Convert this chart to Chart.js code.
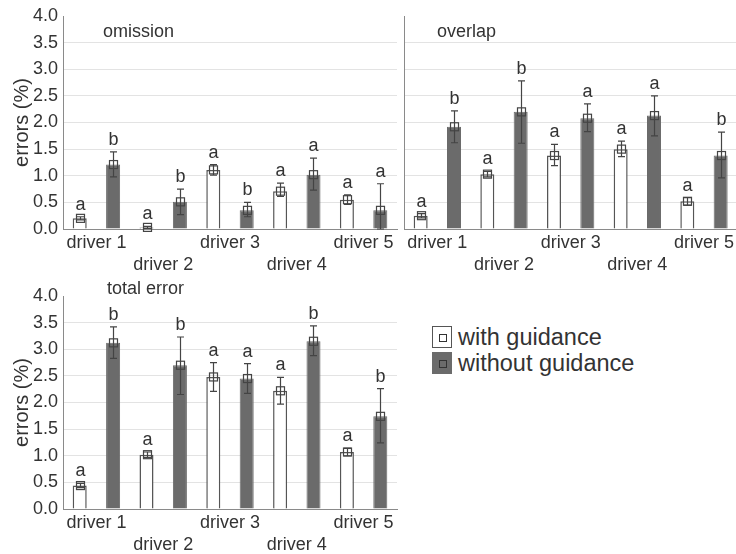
<!DOCTYPE html>
<html>
<head>
<meta charset="utf-8">
<script src="https://cdn.jsdelivr.net/npm/chart.js@4/dist/chart.umd.min.js"></script>
<style>
  html, body { margin: 0; padding: 0; background: #fff; overflow: hidden; width: 736px; height: 554px; }
  canvas { position: absolute; }
  #legend { position: absolute; left: 432px; top: 324px; font-family: "Liberation Sans", Arial, sans-serif; font-size: 23.5px; color: #333; }
  #legend .row { height: 26px; line-height: 26px; white-space: nowrap; position: relative; padding-left: 26px; }
  #legend .box { position: absolute; left: 0; top: 2px; width: 20px; height: 22px; box-sizing: border-box; }
  #legend .box i { position: absolute; left: 6px; top: 7px; width: 8px; height: 8px; box-sizing: border-box; border: 1.3px solid #333; }
</style>
</head>
<body>
<canvas id="omission" width="400" height="280" style="left:0;top:0"></canvas>
<canvas id="overlap" width="338" height="280" style="left:400px;top:0"></canvas>
<canvas id="total" width="400" height="274" style="left:0;top:280px"></canvas>
<div id="legend"></div>

<script>
// ---- data ----
const drivers = ['driver 1', 'driver 2', 'driver 3', 'driver 4', 'driver 5'];
const seriesNames = ['with guidance', 'without guidance'];
const yTickLabels = ['0.0', '0.5', '1.0', '1.5', '2.0', '2.5', '3.0', '3.5', '4.0'];

// omission errors (%): mean, lower and upper whisker, group letters
const omissionWith      = [0.20, 0.03, 1.11, 0.71, 0.55];
const omissionWithLo    = [0.17, 0.01, 1.01, 0.61, 0.46];
const omissionWithHi    = [0.23, 0.05, 1.21, 0.86, 0.64];
const omissionWithout   = [1.21, 0.51, 0.35, 1.02, 0.35];
const omissionWithoutLo = [0.98, 0.27, 0.23, 0.73, 0.00];
const omissionWithoutHi = [1.45, 0.75, 0.50, 1.33, 0.85];
const omissionLettersWith    = ['a', 'a', 'a', 'a', 'a'];
const omissionLettersWithout = ['b', 'b', 'b', 'a', 'a'];

// overlap errors (%)
const overlapWith      = [0.25, 1.03, 1.38, 1.50, 0.52];
const overlapWithLo    = [0.21, 0.98, 1.19, 1.36, 0.45];
const overlapWithHi    = [0.29, 1.08, 1.59, 1.65, 0.59];
const overlapWithout   = [1.92, 2.20, 2.08, 2.13, 1.38];
const overlapWithoutLo = [1.62, 1.61, 1.83, 1.75, 0.96];
const overlapWithoutHi = [2.22, 2.78, 2.35, 2.50, 1.82];
const overlapLettersWith    = ['a', 'a', 'a', 'a', 'a'];
const overlapLettersWithout = ['b', 'b', 'a', 'a', 'b'];

// total errors (%)
const totalWith      = [0.44, 1.02, 2.48, 2.22, 1.07];
const totalWithLo    = [0.40, 0.97, 2.21, 1.97, 1.00];
const totalWithHi    = [0.48, 1.07, 2.75, 2.47, 1.14];
const totalWithout   = [3.12, 2.70, 2.45, 3.15, 1.74];
const totalWithoutLo = [2.83, 2.15, 2.17, 2.88, 1.24];
const totalWithoutHi = [3.42, 3.23, 2.73, 3.44, 2.26];
const totalLettersWith    = ['a', 'a', 'a', 'a', 'a'];
const totalLettersWithout = ['b', 'b', 'a', 'b', 'b'];

// ---- styling ----
const FONT = '"Liberation Sans", Arial, sans-serif';
const TEXT = '#333';
const DARK = '#6b6b6b';
const AXIS = '#8a8a8a';
const GRID = '#e3e3e3';

// even-numbered drivers sit on a second label row
const xLabels = drivers.map((d, i) => (i % 2 === 1 ? ['', d] : d));

// whiskers, mean markers, significance letters and panel caption
const overlayPlugin = {
  id: 'overlay',
  afterDatasetsDraw(chart, args, o) {
    const ctx = chart.ctx;
    const ys = chart.scales.y;
    o.series.forEach((s, i) => {
      const meta = chart.getDatasetMeta(i);
      meta.data.forEach((bar, j) => {
        const x = Math.round(bar.x) + 0.5;
        const yHi = ys.getPixelForValue(s.hi[j]);
        const yLo = ys.getPixelForValue(s.lo[j]);
        const yM = ys.getPixelForValue(chart.data.datasets[i].data[j]);
        ctx.save();
        ctx.strokeStyle = '#444';
        ctx.lineWidth = 1.2;
        ctx.beginPath();
        ctx.moveTo(x, yHi); ctx.lineTo(x, yLo);
        ctx.moveTo(x - 3.5, yHi); ctx.lineTo(x + 3.5, yHi);
        ctx.moveTo(x - 3.5, yLo); ctx.lineTo(x + 3.5, yLo);
        ctx.stroke();
        ctx.strokeRect(x - 4, yM - 4, 8, 8);
        ctx.fillStyle = TEXT;
        ctx.font = '18px ' + FONT;
        ctx.textAlign = 'center';
        ctx.textBaseline = 'alphabetic';
        ctx.fillText(s.letters[j], x, yHi - 7);
        ctx.restore();
      });
    });
    ctx.save();
    ctx.fillStyle = TEXT;
    ctx.font = '18px ' + FONT;
    ctx.textAlign = 'left';
    ctx.textBaseline = 'middle';
    ctx.fillText(o.title, chart.chartArea.left + o.titleDx, o.titleY);
    ctx.restore();
  }
};

function makePanel(id, cfg) {
  return new Chart(document.getElementById(id), {
    type: 'bar',
    data: {
      labels: xLabels,
      datasets: [
        { label: seriesNames[0], data: cfg.withData, backgroundColor: '#fff', borderColor: '#555', borderWidth: 1.5 },
        { label: seriesNames[1], data: cfg.withoutData, backgroundColor: DARK, borderColor: DARK, borderWidth: 1 }
      ]
    },
    options: {
      responsive: false,
      animation: false,
      devicePixelRatio: 1,
      layout: { padding: { top: 16, right: cfg.padRight, bottom: 0, left: 0 } },
      datasets: { bar: { categoryPercentage: 1, barPercentage: 0.42 } },
      plugins: {
        legend: { display: false },
        tooltip: { enabled: false },
        overlay: {
          title: cfg.title, titleDx: cfg.titleDx, titleY: cfg.titleY,
          series: [
            { lo: cfg.withLo, hi: cfg.withHi, letters: cfg.lettersWith },
            { lo: cfg.withoutLo, hi: cfg.withoutHi, letters: cfg.lettersWithout }
          ]
        }
      },
      scales: {
        x: {
          grid: { display: false, drawTicks: false },
          border: { color: AXIS, width: 1 },
          ticks: { font: { family: FONT, size: 18, lineHeight: 1.17 }, color: TEXT, padding: 4, maxRotation: 0, autoSkip: false },
          afterFit(s) { s.height = cfg.xHeight; }
        },
        y: {
          min: 0, max: 4,
          ticks: {
            display: cfg.showY, stepSize: 0.5,
            callback: (v, i) => yTickLabels[i],
            font: { family: FONT, size: 18 }, color: TEXT, padding: 5
          },
          grid: { color: c => (c.tick && c.tick.value === 4 ? 'rgba(0,0,0,0)' : GRID), drawTicks: false, lineWidth: 1 },
          border: { color: AXIS, width: 1 },
          title: { display: cfg.showY, text: 'errors (%)', font: { family: FONT, size: 20 }, color: TEXT, padding: { top: 10, bottom: 0 } },
          afterFit(s) { s.width = cfg.yWidth; }
        }
      }
    },
    plugins: [overlayPlugin]
  });
}

makePanel('omission', {
  title: 'omission', titleDx: 40, titleY: 32,
  withData: omissionWith, withLo: omissionWithLo, withHi: omissionWithHi, lettersWith: omissionLettersWith,
  withoutData: omissionWithout, withoutLo: omissionWithoutLo, withoutHi: omissionWithoutHi, lettersWithout: omissionLettersWithout,
  showY: true, yWidth: 63, padRight: 3, xHeight: 51
});

makePanel('overlap', {
  title: 'overlap', titleDx: 33, titleY: 32,
  withData: overlapWith, withLo: overlapWithLo, withHi: overlapWithHi, lettersWith: overlapLettersWith,
  withoutData: overlapWithout, withoutLo: overlapWithoutLo, withoutHi: overlapWithoutHi, lettersWithout: overlapLettersWithout,
  showY: false, yWidth: 4, padRight: 0, xHeight: 51
});

makePanel('total', {
  title: 'total error', titleDx: 44, titleY: 9,
  withData: totalWith, withLo: totalWithLo, withHi: totalWithHi, lettersWith: totalLettersWith,
  withoutData: totalWithout, withoutLo: totalWithoutLo, withoutHi: totalWithoutHi, lettersWithout: totalLettersWithout,
  showY: true, yWidth: 63, padRight: 3, xHeight: 45
});

// legend for the two guidance conditions
const legend = document.getElementById('legend');
const legendFills = ['#fff', DARK];
seriesNames.forEach((name, i) => {
  const row = document.createElement('div');
  row.className = 'row';
  const box = document.createElement('span');
  box.className = 'box';
  box.style.background = legendFills[i];
  box.style.border = '1.5px solid ' + (i === 0 ? '#555' : DARK);
  box.appendChild(document.createElement('i'));
  row.appendChild(box);
  row.appendChild(document.createTextNode(name));
  legend.appendChild(row);
});
</script>
</body>
</html>
